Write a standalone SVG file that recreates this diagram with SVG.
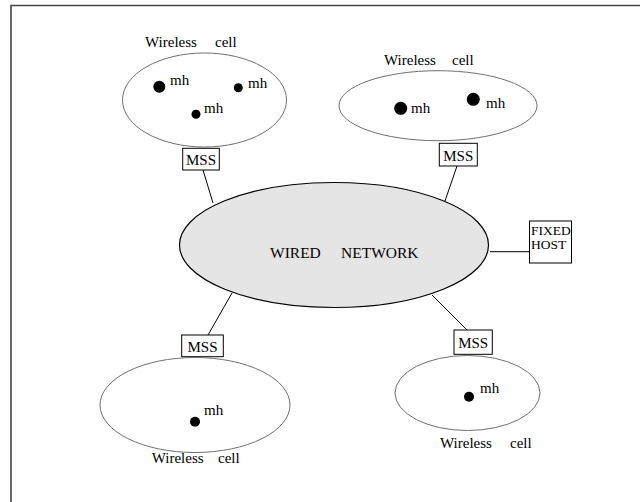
<svg xmlns="http://www.w3.org/2000/svg" width="640" height="502" viewBox="0 0 640 502">
<style>
text{font-family:"Liberation Serif","Times New Roman",serif;font-size:15px;fill:#000}
.cell{fill:none;stroke:#707070;stroke-width:1}
.box{fill:#fff;stroke:#000;stroke-width:1}
.dot{fill:#000}
.conn line{stroke:#000;stroke-width:1}
.small{font-size:13.5px}
</style>
<rect width="640" height="502" fill="#fff"/>
<g id="frame"><path d="M11,502 V5.5 H640" fill="none" stroke="#444" stroke-width="1.6"/></g>
<g id="connectors" class="conn">
<line x1="203" y1="170" x2="213" y2="203"/>
<line x1="457" y1="166" x2="445" y2="201"/>
<line x1="490" y1="251.7" x2="529" y2="251.7"/>
<line x1="232" y1="293" x2="208" y2="335"/>
<line x1="432" y1="295" x2="467" y2="330"/>
</g>
<g id="wired">
<ellipse cx="334" cy="245" rx="154.5" ry="62.5" fill="#e5e5e5" stroke="#000" stroke-width="1.2"/>
<text y="258" style="font-size:15.5px"><tspan x="270">WIRED</tspan><tspan x="341">NETWORK</tspan></text>
</g>
<g id="fixedhost">
<rect class="box" x="529.5" y="221" width="42" height="42"/>
<text class="small"><tspan x="531" y="234.5">FIXED</tspan><tspan x="531" y="249">HOST</tspan></text>
</g>
<g id="cell1">
<text y="47"><tspan x="145">Wireless</tspan><tspan x="215">cell</tspan></text>
<ellipse class="cell" cx="204.5" cy="100" rx="82" ry="47"/>
<circle class="dot" cx="159.3" cy="86.7" r="6"/><text x="170" y="85">mh</text>
<circle class="dot" cx="238.3" cy="87.7" r="4.5"/><text x="248" y="88">mh</text>
<circle class="dot" cx="196" cy="114.3" r="4.5"/><text x="204" y="113">mh</text>
</g>
<g id="mss1"><rect class="box" x="182.7" y="148.3" width="36.6" height="21.7"/><text x="201" y="165" text-anchor="middle">MSS</text></g>
<g id="cell2">
<text y="65"><tspan x="384">Wireless</tspan><tspan x="452">cell</tspan></text>
<ellipse class="cell" cx="438" cy="105.7" rx="99" ry="35"/>
<circle class="dot" cx="400.7" cy="108.3" r="6.5"/><text x="411" y="113">mh</text>
<circle class="dot" cx="473.3" cy="99.3" r="6.5"/><text x="486" y="108">mh</text>
</g>
<g id="mss2"><rect class="box" x="439.3" y="143.3" width="38" height="22.7"/><text x="458.3" y="160.5" text-anchor="middle">MSS</text></g>
<g id="mss3"><rect class="box" x="181.7" y="335" width="41.6" height="21.7"/><text x="202.5" y="351.5" text-anchor="middle">MSS</text></g>
<g id="cell3">
<ellipse class="cell" cx="195" cy="405" rx="95" ry="47.5"/>
<circle class="dot" cx="195" cy="421.7" r="5"/><text x="204" y="415">mh</text>
<text y="463"><tspan x="151.7">Wireless</tspan><tspan x="218">cell</tspan></text>
</g>
<g id="mss4"><rect class="box" x="454" y="330" width="38.3" height="24.3"/><text x="473.2" y="348" text-anchor="middle">MSS</text></g>
<g id="cell4">
<ellipse class="cell" cx="467.5" cy="393" rx="72.5" ry="37.5"/>
<circle class="dot" cx="469" cy="396.7" r="5"/><text x="480" y="393">mh</text>
<text y="448"><tspan x="440">Wireless</tspan><tspan x="510">cell</tspan></text>
</g>
</svg>
